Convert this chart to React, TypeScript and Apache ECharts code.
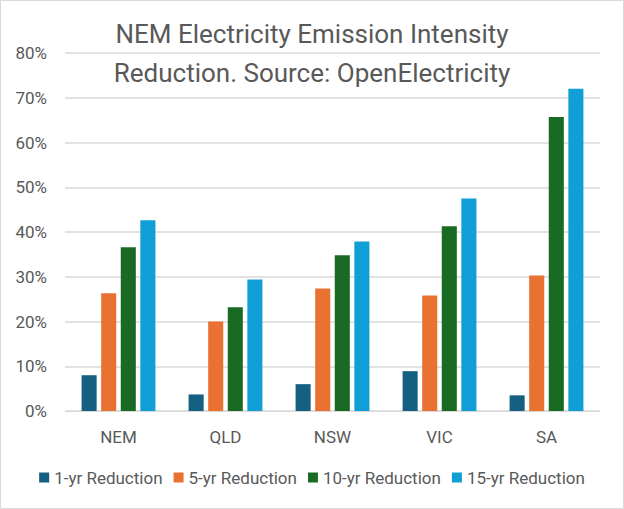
import React, { useEffect, useRef } from "react";
import * as echarts from "echarts";

const categories = ["NEM", "QLD", "NSW", "VIC", "SA"];
const seriesNames = ["1-yr Reduction", "5-yr Reduction", "10-yr Reduction", "15-yr Reduction"];
const oneYr = [8.0, 3.7, 6.0, 8.9, 3.5];
const fiveYr = [26.3, 20.0, 27.4, 25.8, 30.3];
const tenYr = [36.6, 23.2, 34.8, 41.3, 65.7];
const fifteenYr = [42.6, 29.4, 37.9, 47.5, 72.0];
const colors = ["#156082", "#E97132", "#196B24", "#0F9ED5"];

const FONT = "Roboto, 'Noto Sans', sans-serif";
const TEXT = "#595959";

export default function App() {
  const ref = useRef<HTMLDivElement>(null);
  useEffect(() => {
    document.body.style.margin = "0";
    const chart = echarts.init(ref.current!, null, { renderer: "svg" });
    const data = [oneYr, fiveYr, tenYr, fifteenYr];
    chart.setOption({
      animation: false,
      backgroundColor: "#ffffff",
      textStyle: { fontFamily: FONT, color: TEXT },
      title: {
        text: "NEM Electricity Emission Intensity\nReduction. Source: OpenElectricity",
        left: "center",
        top: 9,
        textStyle: {
          fontFamily: FONT,
          fontSize: 26,
          fontWeight: "normal",
          color: TEXT,
          lineHeight: 39,
        },
      },
      graphic: [
        {
          type: "rect",
          shape: { x: 0.5, y: 0.5, width: 623, height: 508 },
          style: { fill: "none", stroke: "#d9d9d9", lineWidth: 1 },
          silent: true,
          z: 100,
        },
      ],
      legend: {
        top: 464,
        left: "center",
        itemWidth: 10,
        itemHeight: 10,
        itemGap: 11,
        icon: "rect",
        textStyle: { fontFamily: FONT, fontSize: 17, color: TEXT },
        data: seriesNames,
      },
      grid: { left: 65, right: 24, top: 53, bottom: 98, containLabel: false },
      xAxis: {
        type: "category",
        data: categories,
        axisLine: { lineStyle: { color: "#d9d9d9", width: 1 } },
        axisTick: { show: false },
        axisLabel: { fontFamily: FONT, fontSize: 17, color: TEXT, margin: 17 },
      },
      yAxis: {
        type: "value",
        min: 0,
        max: 80,
        interval: 10,
        axisLine: { show: false },
        axisTick: { show: false },
        splitLine: { lineStyle: { color: "#d9d9d9", width: 1.5 } },
        axisLabel: {
          fontFamily: FONT,
          fontSize: 17,
          color: TEXT,
          margin: 18,
          formatter: (v: number) => `${v}%`,
        },
      },
      series: seriesNames.map((name, i) => ({
        name,
        type: "bar",
        data: data[i],
        barGap: "30%",
        barCategoryGap: "31%",
        itemStyle: { color: colors[i] },
      })),
    });
    return () => chart.dispose();
  }, []);
  return <div ref={ref} style={{ width: 624, height: 509 }} />;
}
